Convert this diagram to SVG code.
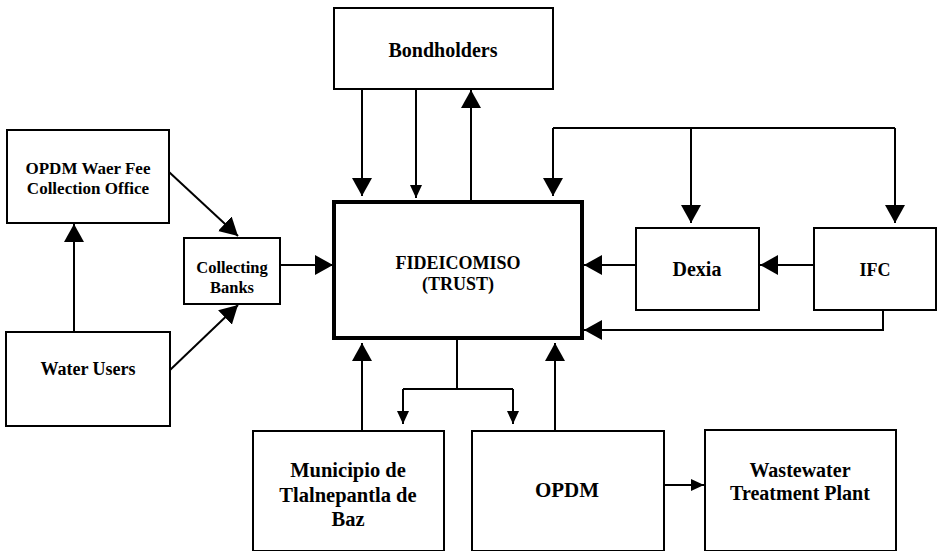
<svg xmlns="http://www.w3.org/2000/svg" width="940" height="551" viewBox="0 0 940 551">
<style>
.box{fill:#fff;stroke:#000;stroke-width:2}
.trust{fill:#fff;stroke:#000;stroke-width:4}
text{font-family:"Liberation Serif","Times New Roman",serif;font-weight:bold;fill:#000;text-anchor:middle}
.c{fill:none;stroke:#000;stroke-width:2}
</style>
<defs>
<marker id="big" markerUnits="userSpaceOnUse" markerWidth="20" markerHeight="20" refX="18" refY="10" orient="auto"><path d="M0,0 L18,10 L0,20 z" fill="#000"/></marker>
<marker id="sm" markerUnits="userSpaceOnUse" markerWidth="14" markerHeight="12" refX="13" refY="6" orient="auto"><path d="M0,0 L13,6 L0,12 z" fill="#000"/></marker>
</defs>
<rect width="940" height="551" fill="#fff"/>
<g id="connectors">
<line class="c" x1="362" y1="89" x2="362" y2="196" marker-end="url(#big)"/>
<line class="c" x1="416" y1="89" x2="416" y2="198" marker-end="url(#sm)"/>
<line class="c" x1="471" y1="202" x2="471" y2="90" marker-end="url(#big)"/>
<polyline class="c" points="553,128 895,128"/>
<line class="c" x1="553" y1="128" x2="553" y2="196" marker-end="url(#big)"/>
<line class="c" x1="691" y1="128" x2="691" y2="223" marker-end="url(#big)"/>
<line class="c" x1="895" y1="128" x2="895" y2="223" marker-end="url(#big)"/>
<line class="c" x1="636" y1="265" x2="584" y2="265" marker-end="url(#big)"/>
<line class="c" x1="814" y1="265" x2="760" y2="265" marker-end="url(#big)"/>
<polyline class="c" points="883,310 883,330 584,330" marker-end="url(#big)"/>
<line class="c" x1="280" y1="265" x2="333" y2="265" marker-end="url(#big)"/>
<line class="c" x1="169" y1="172" x2="238" y2="236" marker-end="url(#big)"/>
<line class="c" x1="170" y1="370" x2="238" y2="305" marker-end="url(#big)"/>
<line class="c" x1="74" y1="332" x2="74" y2="224" marker-end="url(#big)"/>
<line class="c" x1="362" y1="431" x2="362" y2="343" marker-end="url(#big)"/>
<line class="c" x1="555" y1="431" x2="555" y2="343" marker-end="url(#big)"/>
<polyline class="c" points="457,340 457,389"/>
<polyline class="c" points="403,389 513,389"/>
<line class="c" x1="403" y1="389" x2="403" y2="424" marker-end="url(#sm)"/>
<line class="c" x1="513" y1="389" x2="513" y2="424" marker-end="url(#sm)"/>
<line class="c" x1="664" y1="485" x2="704" y2="485" marker-end="url(#sm)"/>
</g>
<g id="bondholders"><rect class="box" x="334" y="8" width="219" height="81"/><text x="443" y="57" font-size="20">Bondholders</text></g>
<g id="opdm-fee"><rect class="box" x="7" y="130" width="162" height="93"/><text x="88" y="174" font-size="17">OPDM Waer Fee</text><text x="88" y="194" font-size="17">Collection Office</text></g>
<g id="collecting-banks"><rect class="box" x="184" y="238" width="96" height="66"/><text x="232" y="273" font-size="16.5">Collecting</text><text x="232" y="293" font-size="16.5">Banks</text></g>
<g id="trust"><rect class="trust" x="334" y="202" width="248" height="136"/><text x="458" y="269" font-size="18">FIDEICOMISO</text><text x="458" y="290" font-size="18">(TRUST)</text></g>
<g id="dexia"><rect class="box" x="636" y="228" width="123" height="82"/><text x="697" y="276" font-size="20">Dexia</text></g>
<g id="ifc"><rect class="box" x="814" y="228" width="122" height="82"/><text x="875" y="276" font-size="18">IFC</text></g>
<g id="water-users"><rect class="box" x="6" y="332" width="164" height="94"/><text x="88" y="375" font-size="18">Water Users</text></g>
<g id="municipio"><rect class="box" x="253" y="431" width="191" height="120"/><text x="348" y="477" font-size="20.5">Municipio de</text><text x="348" y="502" font-size="20.5">Tlalnepantla de</text><text x="348" y="526" font-size="20.5">Baz</text></g>
<g id="opdm"><rect class="box" x="472" y="431" width="192" height="120"/><text x="567" y="497" font-size="21">OPDM</text></g>
<g id="wwtp"><rect class="box" x="705" y="430" width="191" height="121"/><text x="800" y="477" font-size="20">Wastewater</text><text x="800" y="500" font-size="20">Treatment Plant</text></g>
</svg>
